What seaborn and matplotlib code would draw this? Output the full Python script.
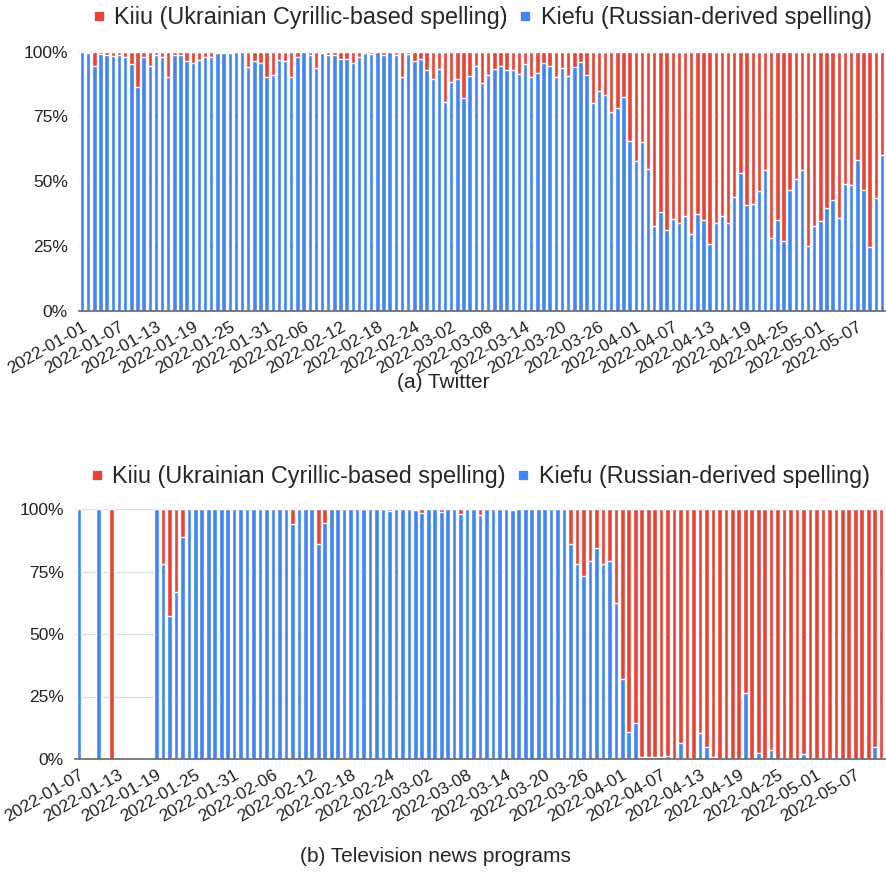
import numpy as np
import pandas as pd
import seaborn as sns
import matplotlib.pyplot as plt
from matplotlib.lines import Line2D
from matplotlib.transforms import ScaledTranslation

# ─── Data (share of "Kiefu" in %, the rest is "Kiiu") ────────────────────────

twitter_dates = pd.date_range("2022-01-01", "2022-05-11").strftime("%Y-%m-%d").tolist()
twitter_kiefu = [
    100, 99.5, 94.6, 99, 98.8, 98.3, 98.6, 98, 95, 86.5, 97.7, 94.6, 98.6, 98,
    90, 98.6, 98.7, 96.3, 95.4, 96.8, 97.7, 97.7, 99.4, 99.6, 99.4, 99.7, 99.7,
    94, 96.4, 95.5, 90.2, 90.9, 96.8, 96.4, 90.2, 97.7, 100, 98.6, 93.6, 99.4,
    98.7, 98.6,
    97, 97, 95.5, 97.8, 99.4, 99, 99.7, 98.6, 99.7, 98.7, 90, 99, 96.4, 97,
    92.9, 89.3, 93.2, 80.7, 88.3, 89.4, 82.2, 90.7, 94.6, 87.8, 91, 93.2, 94.6,
    92.9, 92.8, 91.4, 95.2, 90.3, 91.6, 95.5, 94.5, 90.2, 93.8, 90.7, 94.2,
    95.8, 91, 80, 84.6, 83.3,
    76.6, 78.4, 82.6, 65.5, 57.9, 65, 54.6, 32.7, 38.2, 31.4, 35.3, 34, 36.6,
    29.5, 37.2, 35, 25.7, 34, 36.6, 34, 43.8, 53, 40.8, 41.2, 46.3, 54.3, 28.3,
    35, 26.9, 46.8, 50.8, 54.3, 25, 32.7, 34.6, 39.5, 42.7, 35.9, 48.9, 48.4,
    58.2, 46.6, 24.5, 43.4, 60.1,
]

tv_dates = pd.date_range("2022-01-07", "2022-05-11").strftime("%Y-%m-%d").tolist()
nan = np.nan
tv_kiefu = [
    100, nan, nan, 100, nan, 0, nan, nan, nan, nan, nan, nan,
    100, 78, 57.2, 66.7, 88.9,
    100, 100, 100, 100, 100, 100, 100, 100, 100, 100, 100, 100, 100, 100, 100, 100,
    93.9, 100, 100, 100, 85.9, 94.3,
    100, 100, 100, 100, 100, 100, 100, 100, 100, 99.2, 100, 100, 100, 99.5, 98.5,
    100, 100, 99, 100, 100, 98, 100, 100, 97.6, 100, 100, 100, 100, 99.6,
    100, 100, 100, 100, 100, 100, 100, 100,
    85.9, 78, 73.2, 79.3, 84.3, 78, 79.3, 62.3, 31.9, 10.9, 14.5,
    0.9, 0.9, 0.7, 0.8, 1.1, 0, 6.3, 0, 0, 10.3, 4.9, 0.7, 0, 0, 0, 0, 26.4,
    0, 2.5, 0, 3.7, 0, 0, 0, 0, 1.9, 0, 0, 0, 0, 0, 0, 0, 0, 0, 0, 4.7, 0,
]

labels = ["Kiiu (Ukrainian Cyrillic-based spelling)", "Kiefu (Russian-derived spelling)"]
captions = ["(a) Twitter", "(b) Television news programs"]

RED = "#EA4335"
BLUE = "#4285F4"

sns.set_theme(style="white")
plt.rcParams["font.family"] = ["Liberation Sans", "DejaVu Sans"]

fig = plt.figure(figsize=(8.86, 8.73), dpi=100)
W, H = 886, 873
ax1 = fig.add_axes([79 / W, 1 - 311 / H, (885 - 79) / W, (311 - 51.5) / H])
ax2 = fig.add_axes([75 / W, 1 - 759 / H, (885 - 75) / W, (759 - 509) / H])


def stacked(ax, dates, kiefu, xlim):
    df = pd.DataFrame({"date": dates, "kiefu": kiefu})
    df["total"] = np.where(df["kiefu"].notna(), 100.0, np.nan)
    sns.barplot(data=df, x="date", y="total", order=dates, color=RED,
                saturation=1, width=0.72, errorbar=None, ax=ax)
    sns.barplot(data=df, x="date", y="kiefu", order=dates, color=BLUE,
                saturation=1, width=0.72, errorbar=None, ax=ax)
    ax.set_xlim(*xlim)
    ax.set_ylim(0, 100)
    ax.set_yticks([0, 25, 50, 75, 100])
    ax.set_yticklabels(["0%", "25%", "50%", "75%", "100%"])
    ax.grid(axis="y", color="#dddddd", linewidth=1)
    ax.set_axisbelow(True)
    for s in ["top", "left", "right"]:
        ax.spines[s].set_visible(False)
    ax.spines["bottom"].set_color("#666666")
    ax.spines["bottom"].set_linewidth(1.2)
    ticks = list(range(0, len(dates), 6))
    ax.set_xticks(ticks)
    ax.set_xticklabels([dates[i] for i in ticks], rotation=30, ha="right",
                       rotation_mode="anchor")
    off = ScaledTranslation(7 / 100, 0, fig.dpi_scale_trans)
    for t in ax.get_xticklabels():
        t.set_transform(t.get_transform() + off)
    ax.tick_params(axis="both", length=0, labelsize=12.5, colors="#222222")
    ax.tick_params(axis="y", pad=8)
    ax.tick_params(axis="x", pad=6)
    ax.set_xlabel("")
    ax.set_ylabel("")
    handles = [Line2D([], [], marker="s", linestyle="none", color=c, markersize=6.3)
               for c in (RED, BLUE)]
    ax.legend(handles, labels, loc="center", bbox_to_anchor=(0.5, 1 + 33 / 255),
              ncol=2, frameon=False, fontsize=16.8, handlelength=0.55,
              handletextpad=0.4, columnspacing=0.45, borderaxespad=0)


stacked(ax1, twitter_dates, twitter_kiefu, (-0.5, 130.5))
stacked(ax2, tv_dates, tv_kiefu, (-0.6, 124.6))

fig.text(0.5, 1 - 383 / H, captions[0], ha="center", va="center", fontsize=15)
fig.text(0.491, 1 - 857 / H, captions[1], ha="center", va="center", fontsize=15)

plt.savefig("out.png", dpi=100)
